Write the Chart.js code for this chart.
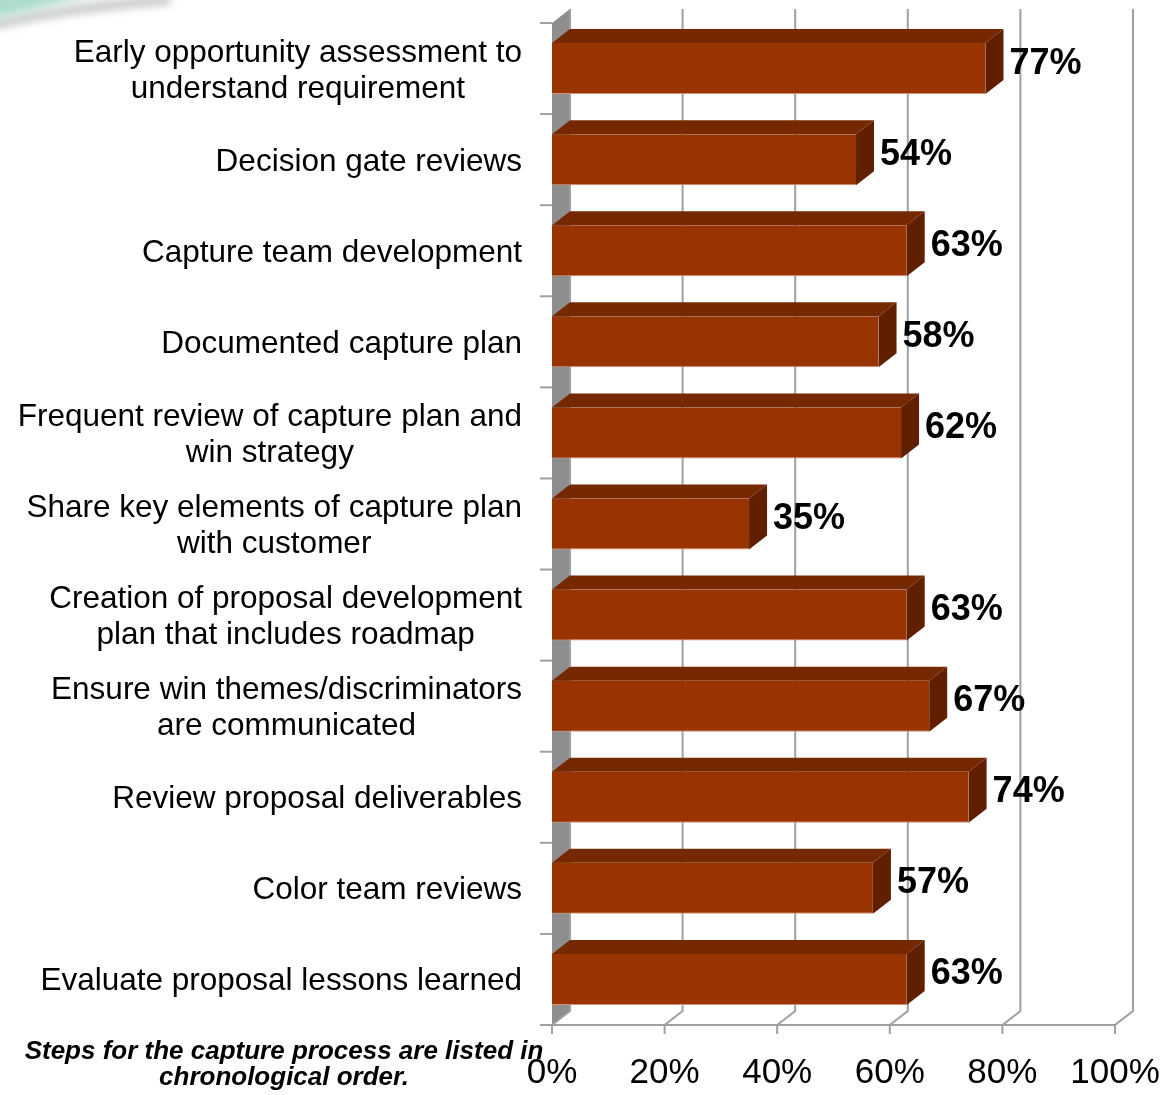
<!DOCTYPE html>
<html>
<head>
<meta charset="utf-8">
<title>Capture process steps</title>
<script src="https://cdn.jsdelivr.net/npm/chart.js@4.4.1/dist/chart.umd.min.js"></script>
<style>
  html, body { margin: 0; padding: 0; background: #fff; }
  #wrap { width: 1165px; height: 1095px; position: relative; }
</style>
</head>
<body>
<div id="wrap"><canvas id="chart" width="1165" height="1095"></canvas></div>
<script>
// Steps listed top to bottom, multi-line labels as arrays
const categories = [
  ["Early opportunity assessment to", "understand requirement"],
  ["Decision gate reviews"],
  ["Capture team development"],
  ["Documented capture plan"],
  ["Frequent review of capture plan and", "win strategy"],
  ["Share key elements of capture plan", "with customer"],
  ["Creation of proposal development", "plan that includes roadmap"],
  ["Ensure win themes/discriminators", "are communicated"],
  ["Review proposal deliverables"],
  ["Color team reviews"],
  ["Evaluate proposal lessons learned"],
];
const values = [77, 54, 63, 58, 62, 35, 63, 67, 74, 57, 63];
const xTicks = [0, 20, 40, 60, 80, 100];
const footnote = ["Steps for the capture process are listed in", "chronological order."];

const FONT = "'Liberation Sans', Arial, Helvetica, sans-serif";
const DX = 18, DY = 14;          // 3D depth offset
const GRID = "#a0a0a0";
const FRONT = "#993300", TOP = "#762800", SIDE = "#621f00";

// back wall, floor and gridlines drawn in pseudo 3D
const wallPlugin = {
  id: "wall",
  beforeDatasetsDraw(chart) {
    const { ctx, chartArea: a, scales: { x } } = chart;
    const x0 = x.getPixelForValue(0);
    ctx.save();
    // left wall
    ctx.fillStyle = "#8e8e8e";
    ctx.beginPath();
    ctx.moveTo(x0, a.top);
    ctx.lineTo(x0 + DX, a.top - DY);
    ctx.lineTo(x0 + DX, a.bottom - DY);
    ctx.lineTo(x0, a.bottom);
    ctx.closePath();
    ctx.fill();

    ctx.strokeStyle = GRID;
    ctx.lineWidth = 2;
    xTicks.forEach((v) => {
      const xf = x.getPixelForValue(v);
      ctx.beginPath();
      ctx.moveTo(xf + DX, a.top - DY);
      ctx.lineTo(xf + DX, a.bottom - DY);
      ctx.lineTo(xf, a.bottom);
      ctx.lineTo(xf, a.bottom + 9);
      ctx.stroke();
    });
    // floor front edge
    ctx.beginPath();
    ctx.moveTo(x0 - 12, a.bottom);
    ctx.lineTo(x.getPixelForValue(100), a.bottom);
    ctx.stroke();
    // category ticks on the wall edge
    const band = (a.bottom - a.top) / categories.length;
    for (let i = 0; i < categories.length; i++) {
      const y = a.top + i * band;
      ctx.beginPath();
      ctx.moveTo(x0 - 12, y);
      ctx.lineTo(x0, y);
      ctx.stroke();
    }
    ctx.restore();
  },
  afterDatasetsDraw(chart) {
    const { ctx } = chart;
    const meta = chart.getDatasetMeta(0);
    ctx.save();
    meta.data.forEach((bar, i) => {
      const { x, y, base, height } = bar.getProps(["x", "y", "base", "height"], true);
      const t = y - height / 2, b = y + height / 2;
      // top face
      ctx.fillStyle = TOP;
      ctx.beginPath();
      ctx.moveTo(base, t);
      ctx.lineTo(base + DX, t - DY);
      ctx.lineTo(x + DX, t - DY);
      ctx.lineTo(x, t);
      ctx.closePath();
      ctx.fill();
      // right face
      ctx.fillStyle = SIDE;
      ctx.beginPath();
      ctx.moveTo(x, t);
      ctx.lineTo(x + DX, t - DY);
      ctx.lineTo(x + DX, b - DY);
      ctx.lineTo(x, b);
      ctx.closePath();
      ctx.fill();
      // value label
      ctx.fillStyle = "#000";
      ctx.font = "bold 36px " + FONT;
      ctx.textAlign = "left";
      ctx.textBaseline = "alphabetic";
      ctx.fillText(values[i] + "%", x + 24, y + 5);
    });
    ctx.restore();
  },
};

// category labels: each block right aligned, its lines centred
const labelPlugin = {
  id: "catLabels",
  afterDraw(chart) {
    const { ctx, scales: { y } } = chart;
    ctx.save();
    ctx.font = "31.5px " + FONT;
    ctx.fillStyle = "#000";
    ctx.textAlign = "center";
    ctx.textBaseline = "alphabetic";
    const right = 522, lh = 36;
    categories.forEach((lines, i) => {
      const cy = y.getPixelForValue(i);
      const w = Math.max(...lines.map((l) => ctx.measureText(l).width));
      const cx = right - w / 2;
      const first = cy - ((lines.length - 1) * lh) / 2 + 11;
      lines.forEach((l, k) => ctx.fillText(l, cx, first + k * lh));
    });

    // footnote sits over the first tick label
    ctx.font = "italic bold 26px " + FONT;
    ctx.fillText(footnote[0], 284, 1059);
    ctx.fillText(footnote[1], 284, 1085);
    ctx.restore();
  },
};

// soft teal swoosh in the top-left corner
const swooshPlugin = {
  id: "swoosh",
  beforeDraw(chart) {
    const { ctx } = chart;
    ctx.save();
    ctx.filter = "blur(4px)";
    ctx.strokeStyle = "rgba(150,150,150,0.55)";
    ctx.lineWidth = 9;
    ctx.beginPath();
    ctx.moveTo(-10, 26);
    ctx.quadraticCurveTo(60, 8, 170, 0);
    ctx.stroke();
    ctx.fillStyle = "#aedccc";
    ctx.beginPath();
    ctx.moveTo(-10, -10);
    ctx.lineTo(110, -10);
    ctx.quadraticCurveTo(50, 6, -10, 20);
    ctx.closePath();
    ctx.fill();
    ctx.restore();
  },
};

new Chart(document.getElementById("chart"), {
  type: "bar",
  data: {
    labels: categories,
    datasets: [{
      data: values,
      backgroundColor: FRONT,
      borderColor: "#d59274",
      borderWidth: { top: 0, right: 0, bottom: 1, left: 0 },
      borderSkipped: false,
      barPercentage: 0.56,
      categoryPercentage: 1,
    }],
  },
  options: {
    indexAxis: "y",
    responsive: false,
    animation: false,
    layout: { padding: { top: 23, right: 50, left: 0, bottom: 0 } },
    plugins: { legend: { display: false }, tooltip: { enabled: false } },
    scales: {
      x: {
        min: 0,
        max: 100,
        afterBuildTicks: (s) => { s.ticks = xTicks.map((v) => ({ value: v })); },
        afterFit: (s) => {
          s.height = 70;
          s.paddingLeft = 0;
          s.paddingRight = 0;
        },
        grid: { display: false, drawTicks: false },
        border: { display: false },
        ticks: {
          autoSkip: false,
          maxRotation: 0,
          padding: 27,
          color: "#000",
          font: { family: FONT, size: 35 },
          callback: (v) => v + "%",
        },
      },
      y: {
        afterFit: (s) => {
          s.width = 552;
          s.paddingTop = 0;
          s.paddingBottom = 0;
        },
        grid: { display: false },
        border: { display: false },
        ticks: { display: false },
      },
    },
  },
  plugins: [swooshPlugin, wallPlugin, labelPlugin],
});
</script>
</body>
</html>
